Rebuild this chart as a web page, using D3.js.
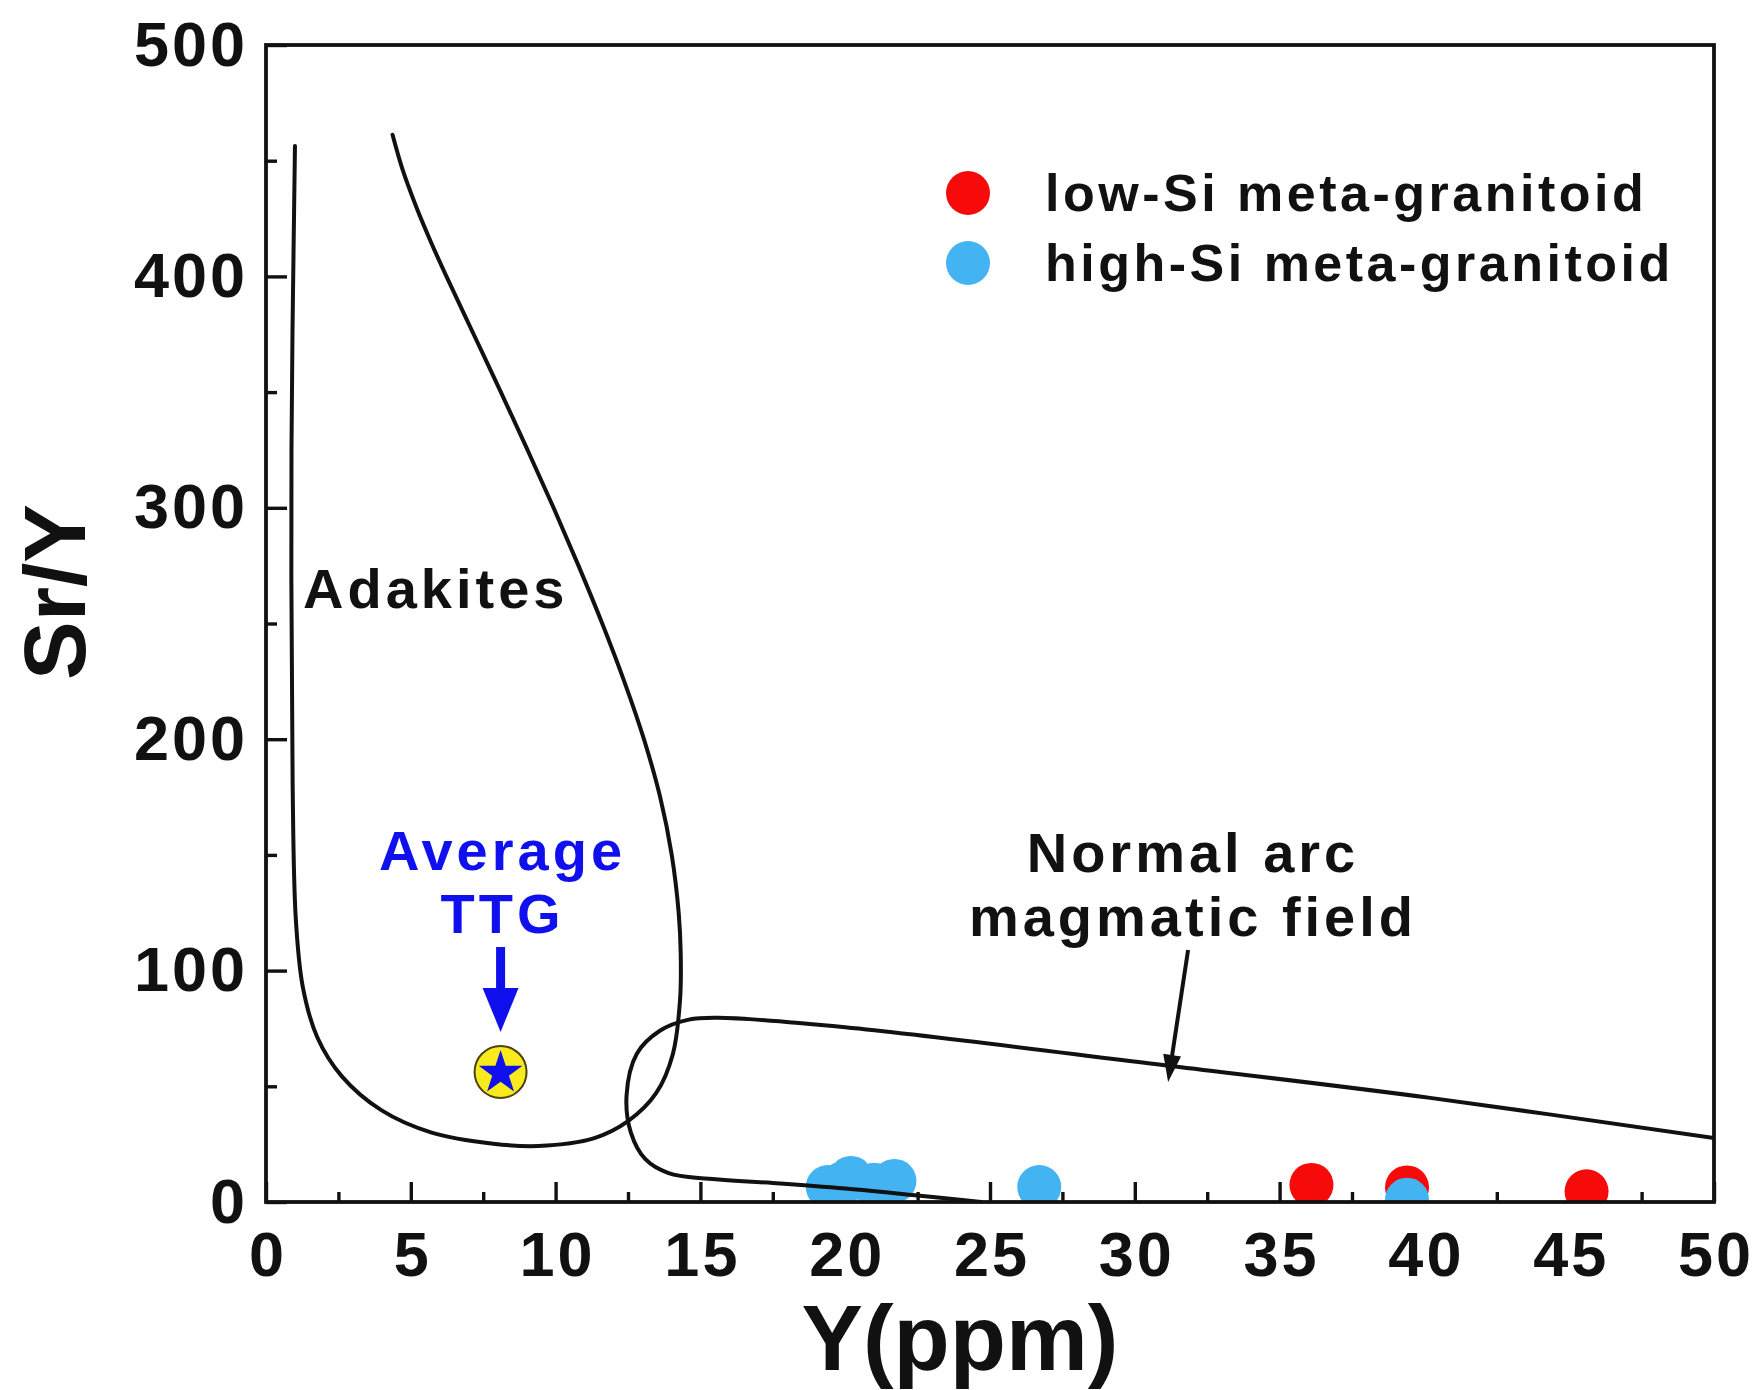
<!DOCTYPE html>
<html>
<head>
<meta charset="utf-8">
<script src="https://cdn.jsdelivr.net/npm/d3@7"></script>
<style>
  body { margin: 0; background: #ffffff; }
  text { font-family: "Liberation Sans", Arial, sans-serif; font-weight: bold; }
</style>
</head>
<body>
<svg id="chart" width="1758" height="1390"></svg>
<script>
// ---- axis ticks ----
const xMajorTicks = [0, 5, 10, 15, 20, 25, 30, 35, 40, 45, 50];
const xMinorTicks = [2.5, 7.5, 12.5, 17.5, 22.5, 27.5, 32.5, 37.5, 42.5, 47.5];
const yMajorTicks = [0, 100, 200, 300, 400, 500];
const yMinorTicks = [50, 150, 250, 350, 450];

// ---- samples: Y (ppm) and Sr/Y ----
const lowSiY   = [36.1, 39.4, 45.6];
const lowSiSrY = [7.4, 6.3, 4.6];
const highSiY   = [19.4, 19.9, 20.2, 21.0, 21.7, 26.7, 39.4];
const highSiSrY = [6.5, 8.0, 10.4, 7.5, 9.1, 6.5, 1.0];

// ---- average TTG ----
const ttgY = 8.1;
const ttgSrY = 56.2;

// ---- adakite field outline ----
const adakiteY   = [1.0, 0.88, 0.92, 1.03, 1.27, 1.77, 2.62, 3.98, 5.72, 7.85, 9.4,
                    11.34, 12.5, 13.47, 14.05, 14.3, 14.32, 14.25, 14.01, 13.61, 13.05, 12.37, 11.61,
                    10.79, 9.93, 9.03, 8.11, 7.17, 6.23, 5.69, 5.19, 4.72, 4.37];
const adakiteSrY = [456.4, 325.6, 180.2, 122.1, 93, 71.2, 54.3, 39.7, 30, 25.2, 24.2,
                    27.6, 34.9, 47, 64, 88, 107.6, 125, 150, 175, 200, 225, 250,
                    275, 300, 325, 350, 375, 400, 415, 430, 446, 461.2];

// ---- normal arc magmatic field outline ----
const arcY   = [50, 40.2, 31.1, 20, 15.6, 14.6, 13.6, 12.8, 12.45, 12.6, 13.1, 13.9, 15.3,
                17.5, 20, 22.5, 24.7];
const arcSrY = [27.6, 45, 59, 75.5, 79.6, 78.8, 74, 64, 46, 30, 18.5, 12.5, 10,
                8.2, 5.8, 2.8, 0];

const seriesNames = ["low-Si meta-granitoid", "high-Si meta-granitoid"];
const seriesColors = ["#f70a0a", "#43b3f2"];

const svg = d3.select("#chart");
const W = 1758, H = 1390;
const margin = { left: 266, right: W - 1714, top: 45, bottom: H - 1202 };

svg.append("rect").attr("width", W).attr("height", H).attr("fill", "#fff");

const x = d3.scaleLinear().domain([0, 50]).range([margin.left, W - margin.right]);
const y = d3.scaleLinear().domain([0, 500]).range([H - margin.bottom, margin.top]);

svg.append("defs").append("clipPath").attr("id", "plotClip")
  .append("rect")
  .attr("x", x(0)).attr("y", y(500))
  .attr("width", x(50) - x(0)).attr("height", y(0) - y(500));

// ---- axes (inward ticks) ----
const xAxis = svg.append("g").attr("transform", `translate(0,${y(0)})`)
  .call(d3.axisBottom(x).tickValues(xMajorTicks).tickSize(-20).tickPadding(29).tickFormat(d3.format("d")));
const xAxisMinor = svg.append("g").attr("transform", `translate(0,${y(0)})`)
  .call(d3.axisBottom(x).tickValues(xMinorTicks).tickSize(-10).tickFormat(""));
const yAxis = svg.append("g").attr("transform", `translate(${x(0)},0)`)
  .call(d3.axisLeft(y).tickValues(yMajorTicks).tickSize(-21).tickPadding(21).tickFormat(d3.format("d")));
const yAxisMinor = svg.append("g").attr("transform", `translate(${x(0)},0)`)
  .call(d3.axisLeft(y).tickValues(yMinorTicks).tickSize(-11).tickFormat(""));

[xAxis, xAxisMinor, yAxis, yAxisMinor].forEach(g => {
  g.select(".domain").remove();
  g.selectAll(".tick line").attr("stroke", "#111").attr("stroke-width", 3.4);
  g.selectAll(".tick text")
    .attr("fill", "#111")
    .style("font-size", "63px")
    .style("letter-spacing", "3px");
});
xAxis.selectAll(".tick text").attr("dx", "1.5px");
yAxis.selectAll(".tick text").attr("dx", "3px");

// ---- sample points ----
const pts = svg.append("g").attr("clip-path", "url(#plotClip)");
pts.selectAll("circle.low").data(d3.zip(lowSiY, lowSiSrY)).join("circle")
  .attr("class", "low")
  .attr("cx", d => x(d[0])).attr("cy", d => y(d[1])).attr("r", 22)
  .attr("fill", seriesColors[0]);
pts.selectAll("circle.high").data(d3.zip(highSiY, highSiSrY)).join("circle")
  .attr("class", "high")
  .attr("cx", d => x(d[0])).attr("cy", d => y(d[1])).attr("r", 22)
  .attr("fill", seriesColors[1]);

// ---- field outlines ----
const line = d3.line().x(d => x(d[0])).y(d => y(d[1])).curve(d3.curveCatmullRom.alpha(0.5));
const fields = svg.append("g").attr("clip-path", "url(#plotClip)")
  .attr("fill", "none").attr("stroke", "#111").attr("stroke-width", 4)
  .attr("stroke-linejoin", "round").attr("stroke-linecap", "round");
fields.append("path").attr("d", line(d3.zip(adakiteY, adakiteSrY)));
fields.append("path").attr("d", line(d3.zip(arcY, arcSrY)));

// ---- plot frame ----
svg.append("rect")
  .attr("x", x(0)).attr("y", y(500))
  .attr("width", x(50) - x(0)).attr("height", y(0) - y(500))
  .attr("fill", "none").attr("stroke", "#111").attr("stroke-width", 3.8);

// ---- arrow helper ----
function arrow(g, x1, y1, x2, y2, shaft, headLen, headW, color) {
  const dx = x2 - x1, dy = y2 - y1, len = Math.hypot(dx, dy);
  const ux = dx / len, uy = dy / len, px = -uy, py = ux;
  const bx = x2 - ux * headLen, by = y2 - uy * headLen;
  g.append("line").attr("x1", x1).attr("y1", y1).attr("x2", bx + ux * 2).attr("y2", by + uy * 2)
    .attr("stroke", color).attr("stroke-width", shaft);
  g.append("path")
    .attr("d", `M${x2},${y2}L${bx + px * headW / 2},${by + py * headW / 2}L${bx - px * headW / 2},${by - py * headW / 2}Z`)
    .attr("fill", color);
}

// ---- average TTG marker ----
const ttg = svg.append("g");
ttg.append("text").attr("x", x(ttgY)).attr("y", y(143.5)).attr("text-anchor", "middle")
  .attr("fill", "#1010ee").style("font-size", "56px").style("letter-spacing", "4px").attr("dx", "2px")
  .text("Average");
ttg.append("text").attr("x", x(ttgY)).attr("y", y(116.2)).attr("text-anchor", "middle")
  .attr("fill", "#1010ee").style("font-size", "56px").style("letter-spacing", "4px").attr("dx", "2px")
  .text("TTG");
arrow(ttg, x(ttgY), y(110.2), x(ttgY), y(73.5), 9, 44, 36, "#1010ee");
ttg.append("circle").attr("cx", x(ttgY)).attr("cy", y(ttgSrY)).attr("r", 26)
  .attr("fill", "#f8ea1c").attr("stroke", "#4a4210").attr("stroke-width", 2);
ttg.append("path")
  .attr("transform", `translate(${x(ttgY)},${y(ttgSrY) + 1})`)
  .attr("d", d3.symbol(d3.symbolStar, 23 * 23 / 0.8908130915292852)())
  .attr("fill", "#1010ee");

// ---- field labels ----
svg.append("text").attr("x", x(1.28)).attr("y", y(256.7))
  .attr("fill", "#111").style("font-size", "56px").style("letter-spacing", "4px")
  .text("Adakites");
svg.append("text").attr("x", x(31.94)).attr("y", y(142.6)).attr("text-anchor", "middle").attr("dx", "2px")
  .attr("fill", "#111").style("font-size", "56px").style("letter-spacing", "4px")
  .text("Normal arc");
svg.append("text").attr("x", x(31.94)).attr("y", y(115)).attr("text-anchor", "middle").attr("dx", "2px")
  .attr("fill", "#111").style("font-size", "56px").style("letter-spacing", "4px")
  .text("magmatic field");
arrow(svg.append("g"), x(31.84), y(108.9), x(31.15), y(51.9), 4, 27, 18, "#111");

// ---- legend ----
const legend = svg.append("g");
seriesNames.forEach((name, i) => {
  legend.append("circle").attr("cx", 968).attr("cy", 193 + i * 70).attr("r", 22).attr("fill", seriesColors[i]);
  legend.append("text").attr("x", 1045).attr("y", 211 + i * 70)
    .attr("fill", "#111").style("font-size", "52px").style("letter-spacing", "3.5px")
    .text(name);
});

// ---- axis titles ----
svg.append("text").attr("x", 960).attr("y", 1370).attr("text-anchor", "middle")
  .attr("fill", "#111").style("font-size", "92px").text("Y(ppm)");
svg.append("text").attr("transform", "translate(85,592) rotate(-90)").attr("text-anchor", "middle")
  .attr("fill", "#111").style("font-size", "88px").text("Sr/Y");
</script>
</body>
</html>
